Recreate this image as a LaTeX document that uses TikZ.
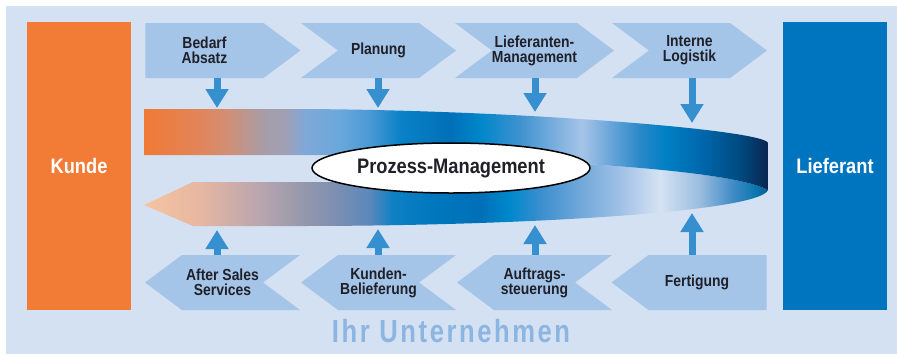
\documentclass[tikz,border=0pt]{standalone}
\usepackage{fontspec}
\newfontfamily\condfont{Liberation Sans}[FakeStretch=0.87]
\newfontfamily\spacedfont{Liberation Sans}[FakeStretch=0.8,LetterSpace=8]
\usetikzlibrary{shapes.symbols,shapes.geometric,arrows.meta}

\definecolor{bgblue}{HTML}{D4E1F2}
\definecolor{chevfill}{HTML}{A4C4E8}
\definecolor{feedblue}{HTML}{3690D0}
\definecolor{kundeorange}{HTML}{F27B35}
\definecolor{lieferblue}{HTML}{0075BF}
\definecolor{textdark}{HTML}{202028}
\definecolor{firmblue}{HTML}{8DB5E2}

\definecolor{ub0}{HTML}{F07A35}  \definecolor{ub1}{HTML}{E2845A}
\definecolor{ub2}{HTML}{CF9078}  \definecolor{ub3}{HTML}{A69DAA}
\definecolor{ub4}{HTML}{A0A0B4}  \definecolor{ub5}{HTML}{80A8D8}
\definecolor{ub6}{HTML}{6AA8DC}  \definecolor{ub7}{HTML}{4A98D4}
\definecolor{ub8}{HTML}{0A82C8}  \definecolor{ub9}{HTML}{0070B8}
\definecolor{ub10}{HTML}{0086CA} \definecolor{ub11}{HTML}{3F92D0}
\definecolor{ub12}{HTML}{7AAEDE} \definecolor{ub13}{HTML}{A6C4E8}
\definecolor{ub14}{HTML}{6AA6DA} \definecolor{ub15}{HTML}{2A88C8}
\definecolor{ub16}{HTML}{0080C4} \definecolor{ub17}{HTML}{0068AE}
\definecolor{ub18}{HTML}{004A80} \definecolor{ub19}{HTML}{0A2550}

\definecolor{lb0}{HTML}{F7C4A0}  \definecolor{lb1}{HTML}{E6B7A2}
\definecolor{lb2}{HTML}{B9A5AE}  \definecolor{lb3}{HTML}{A09CAC}
\definecolor{lb4}{HTML}{8290B0}  \definecolor{lb5}{HTML}{5A88BC}
\definecolor{lb6}{HTML}{1080C4}  \definecolor{lb7}{HTML}{0078BE}
\definecolor{lb8}{HTML}{0070B8}  \definecolor{lb9}{HTML}{0088CC}
\definecolor{lb10}{HTML}{3A8ECE} \definecolor{lb11}{HTML}{70A8DA}
\definecolor{lb12}{HTML}{A0C0E6} \definecolor{lb13}{HTML}{D5E3F3}
\definecolor{lb14}{HTML}{9ABCDF} \definecolor{lb15}{HTML}{3A88C4}
\definecolor{lb16}{HTML}{0A78B0} \definecolor{lb17}{HTML}{0A5C96}

\pgfdeclarehorizontalshading{upperband}{100bp}{color(0bp)=(ub0); color(25bp)=(ub0);
  color(29.49bp)=(ub1); color(31.89bp)=(ub2); color(34.7bp)=(ub3); color(36.3bp)=(ub4);
  color(37.9bp)=(ub5); color(40.71bp)=(ub6); color(43.11bp)=(ub7); color(45.51bp)=(ub8);
  color(49.52bp)=(ub9); color(51.92bp)=(ub10); color(55.13bp)=(ub11); color(57.93bp)=(ub12);
  color(60.1bp)=(ub13); color(62.34bp)=(ub14); color(64.74bp)=(ub15); color(66.75bp)=(ub16);
  color(69.55bp)=(ub17); color(72.76bp)=(ub18); color(75bp)=(ub19); color(100bp)=(ub19)}
\pgfdeclarehorizontalshading{lowerband}{100bp}{color(0bp)=(lb0); color(25bp)=(lb0);
  color(29.49bp)=(lb1); color(34.29bp)=(lb2); color(36.7bp)=(lb3); color(39.9bp)=(lb4);
  color(43.11bp)=(lb5); color(44.87bp)=(lb6); color(47.92bp)=(lb7); color(51.92bp)=(lb8);
  color(54.33bp)=(lb9); color(56.73bp)=(lb10); color(59.94bp)=(lb11); color(63.14bp)=(lb12);
  color(66.35bp)=(lb13); color(69.55bp)=(lb14); color(72.36bp)=(lb15); color(73.96bp)=(lb16);
  color(75bp)=(lb17); color(100bp)=(lb17)}

\begin{document}
\begin{tikzpicture}[x=1pt,y=-1pt,
  chevR/.style={signal,signal to=east,signal from=west,fill=chevfill,
    minimum width=155pt,minimum height=55pt,inner sep=0pt,signal pointer angle=73.3,
    text=textdark,align=center,font=\condfont\bfseries\fontsize{16}{15}\selectfont},
  chevL/.style={chevR,signal to=west,signal from=east},
  chevtext/.style={text=textdark,align=center,font=\condfont\bfseries\fontsize{16}{15}\selectfont},
  partner/.style={minimum width=104pt,minimum height=288pt,inner sep=0pt,
    text=white,font=\condfont\bfseries\fontsize{21}{24}\selectfont},
  feed/.style={draw=feedblue,line width=7pt,-{Triangle[width=22pt,length=19pt]}}
]
  \useasboundingbox (0,0) rectangle (897,354);
  \fill[bgblue] (6,6) rectangle (897,354);

  \node[partner,fill=kundeorange] (kunde)     at (79,166)  {Kunde};
  \node[partner,fill=lieferblue]  (lieferant) at (835,166) {Lieferant};

  \node[chevR,signal from=nowhere] (bedarf) at (204.5,50.5) {Bedarf\\Absatz};
  \node[chevR] (planung)     at (378.5,50.5) {Planung};
  \node[chevR] (lieferanten) at (534.5,50.5) {Lieferanten-\\Management};
  \node[chevR] (logistik)    at (689.5,50.5) {Interne\\Logistik};

  \node[chevL] (service)     at (222.5,282.5) {After Sales\\Services};
  \node[chevL] (belieferung) at (378.5,282.5) {Kunden-\\Belieferung};
  \node[chevL] (auftrag)     at (534.5,282.5) {Auftrags-\\steuerung};
  \node[chevL,signal from=nowhere] (fertigung) at (707.5,282.5) {};
  \node[chevtext] (fertigungtext) at (697,282.5) {Fertigung};

  \shade[shading=lowerband] (144,205) -- (193,182) -- (350,182) -- (350,155)
    .. controls (480,158) and (720,165) .. (768,190)
    .. controls (760,212) and (520,226) .. (300,226) -- (193,226) -- cycle;
  \shade[shading=upperband] (144,109) -- (300,109)
    .. controls (520,110) and (765,130) .. (768,143) -- (768,190)
    .. controls (720,165) and (480,158) .. (350,155) -- (144,155) -- cycle;

  \node[ellipse,draw=black,line width=1.5pt,fill=white,minimum width=278pt,
    minimum height=50pt,inner sep=0pt,text=textdark,
    font=\condfont\bfseries\fontsize{21}{24}\selectfont] (prozess) at (451,168) {Prozess-Management};

  \coordinate (tin1) at (217,108);
  \coordinate (tin2) at (378,108);
  \coordinate (tin3) at (535,112);
  \coordinate (tin4) at (692,123);
  \coordinate (bin1) at (217,230);
  \coordinate (bin2) at (378,229);
  \coordinate (bin3) at (535,225);
  \coordinate (bin4) at (692,213);

  \draw[feed] (bedarf.south -| tin1) -- (tin1);
  \draw[feed] (planung.south -| tin2) -- (tin2);
  \draw[feed] (lieferanten.south -| tin3) -- (tin3);
  \draw[feed] (logistik.south -| tin4) -- (tin4);
  \draw[feed] (service.north -| bin1) -- (bin1);
  \draw[feed] (belieferung.north -| bin2) -- (bin2);
  \draw[feed] (auftrag.north -| bin3) -- (bin3);
  \draw[feed] (fertigung.north -| bin4) -- (bin4);

  \node[text=firmblue,font=\spacedfont\bfseries\fontsize{32}{36}\selectfont] (firma) at (451,331.5) {Ihr Unternehmen};
\end{tikzpicture}
\end{document}
